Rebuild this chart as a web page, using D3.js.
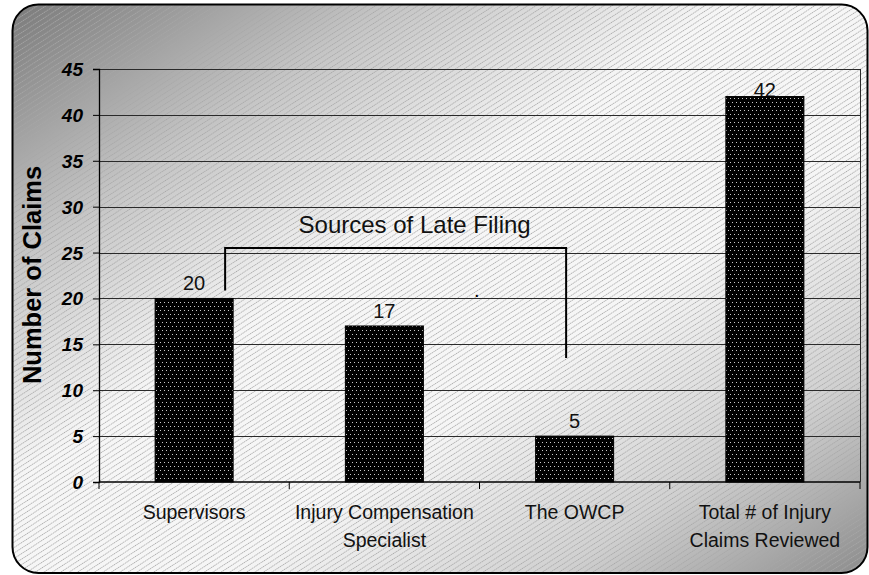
<!DOCTYPE html>
<html>
<head>
<meta charset="utf-8">
<script src="https://cdn.jsdelivr.net/npm/d3@7"></script>
<style>
  body { margin: 0; background: #fff; }
  svg { display: block; font-family: Arial, "Liberation Sans", sans-serif; }
</style>
</head>
<body>
<svg width="869" height="575"></svg>
<script>
// chart data
const categories = ["Supervisors", "Injury Compensation\nSpecialist", "The OWCP", "Total # of Injury\nClaims Reviewed"];
const claims = [20, 17, 5, 42];
const yTicks = [0, 5, 10, 15, 20, 25, 30, 35, 40, 45];
const yTitle = "Number of Claims";
const bracketTitle = "Sources of Late Filing";

const svg = d3.select("svg");
const W = 869, H = 575;
const margin = { top: 69, right: 9, bottom: 93, left: 99 };
const width = W - margin.left - margin.right,
      height = H - margin.top - margin.bottom;

const defs = svg.append("defs");

// background gradient - dark corners top-left / bottom-right, light across the middle
const grad = defs.append("linearGradient")
    .attr("id", "bg")
    .attr("x1", 0).attr("y1", 0).attr("x2", 1).attr("y2", 1);
grad.append("stop").attr("offset", "0%").attr("stop-color", "#7a7a7a");
grad.append("stop").attr("offset", "22%").attr("stop-color", "#c4c4c4");
grad.append("stop").attr("offset", "42%").attr("stop-color", "#f6f6f6");
grad.append("stop").attr("offset", "62%").attr("stop-color", "#f6f6f6");
grad.append("stop").attr("offset", "82%").attr("stop-color", "#d0d0d0");
grad.append("stop").attr("offset", "100%").attr("stop-color", "#8c8c8c");

// diagonal hatch over the background
const hatch = defs.append("pattern")
    .attr("id", "hatch")
    .attr("patternUnits", "userSpaceOnUse")
    .attr("width", 4).attr("height", 4.6)
    .attr("patternTransform", "rotate(-33)");
hatch.append("line")
    .attr("x1", 0).attr("y1", 2.3).attr("x2", 4).attr("y2", 2.3)
    .attr("stroke", "#a8a8a8")
    .attr("stroke-width", 0.9)
    .attr("stroke-dasharray", "1.3,0.7");

// dotted bar fill
const dots = defs.append("pattern")
    .attr("id", "dots")
    .attr("patternUnits", "userSpaceOnUse")
    .attr("width", 8).attr("height", 8);
dots.append("rect").attr("width", 8).attr("height", 8).attr("fill", "#000");
[[1, 1], [5, 1], [3, 5], [7, 5]].forEach(p => {
    dots.append("rect").attr("x", p[0]).attr("y", p[1])
        .attr("width", 1).attr("height", 1).attr("fill", "#c8c8c8");
});

// frame
svg.append("rect")
    .attr("x", 12.5).attr("y", 4.5)
    .attr("width", 855).attr("height", 568.5)
    .attr("rx", 26)
    .attr("fill", "url(#bg)");
svg.append("rect")
    .attr("x", 12.5).attr("y", 4.5)
    .attr("width", 855).attr("height", 568.5)
    .attr("rx", 26)
    .attr("fill", "url(#hatch)")
    .attr("stroke", "#000")
    .attr("stroke-width", 2);

const g = svg.append("g").attr("transform", `translate(${margin.left},${margin.top})`);

const x = d3.scaleBand()
    .domain(categories)
    .range([0, width])
    .paddingInner(0.59)
    .paddingOuter(0.295);

const y = d3.scaleLinear()
    .domain([0, 45])
    .range([height, 0]);

// gridlines
g.append("g")
    .selectAll("line")
    .data(yTicks.filter(d => d > 0))
    .enter().append("line")
    .attr("x1", 0).attr("x2", width)
    .attr("y1", d => Math.round(y(d)) + 0.5)
    .attr("y2", d => Math.round(y(d)) + 0.5)
    .attr("stroke", "#2a2a2a")
    .attr("stroke-width", 1);

// right edge of plot area
g.append("line")
    .attr("x1", width + 0.5).attr("x2", width + 0.5)
    .attr("y1", 0).attr("y2", height)
    .attr("stroke", "#2a2a2a");

// y axis
const yAxis = g.append("g")
    .call(d3.axisLeft(y).tickValues(yTicks).tickSize(6).tickPadding(10));
yAxis.select(".domain").attr("stroke", "#000").attr("stroke-width", 1.3);
yAxis.selectAll(".tick line").attr("stroke", "#000");
yAxis.selectAll("text")
    .attr("fill", "#000")
    .style("font-size", "19px")
    .style("font-weight", "bold")
    .style("font-style", "italic")
    .attr("dy", "0.34em");

// x axis: ticks at category boundaries
const step = x.step();
const boundaries = d3.range(categories.length + 1).map(i => i * step);
g.append("line")
    .attr("x1", 0).attr("x2", width)
    .attr("y1", height).attr("y2", height)
    .attr("stroke", "#000").attr("stroke-width", 1.5);
g.append("g")
    .selectAll("line")
    .data(boundaries)
    .enter().append("line")
    .attr("x1", d => d).attr("x2", d => d)
    .attr("y1", height).attr("y2", height + 7)
    .attr("stroke", "#000");

// category labels
const xl = g.append("g")
    .selectAll("text")
    .data(categories)
    .enter().append("text")
    .attr("text-anchor", "middle")
    .attr("x", d => x(d) + x.bandwidth() / 2)
    .attr("y", height + 37)
    .style("font-size", "19.5px")
    .attr("fill", "#111");
xl.each(function (d) {
    const t = d3.select(this);
    d.split("\n").forEach((line, i) => {
        t.append("tspan")
            .attr("x", x(d) + x.bandwidth() / 2)
            .attr("dy", i === 0 ? 0 : 28)
            .text(line);
    });
});

// value labels (drawn before bars so the tall bar overlaps its own label)
g.append("g")
    .selectAll("text")
    .data(categories)
    .enter().append("text")
    .attr("text-anchor", "middle")
    .attr("x", d => x(d) + x.bandwidth() / 2)
    .attr("y", (d, i) => Math.max(y(claims[i]) - 8, 28))
    .style("font-size", "20px")
    .attr("fill", "#111")
    .text((d, i) => claims[i]);

// bars
g.append("g")
    .selectAll("rect")
    .data(categories)
    .enter().append("rect")
    .attr("x", d => x(d))
    .attr("y", (d, i) => y(claims[i]))
    .attr("width", x.bandwidth())
    .attr("height", (d, i) => height - y(claims[i]))
    .attr("fill", "url(#dots)")
    .attr("stroke", "#000")
    .attr("stroke-width", 1);

// bracket grouping the three sources
const bx0 = x(categories[0]) + 70, bx1 = x(categories[2]) + 30.5;
const bTop = y(25) - 4.5;
g.append("path")
    .attr("d", `M${bx0},${y(20) - 8}V${bTop}H${bx1}V${y(13.5)}`)
    .attr("fill", "none")
    .attr("stroke", "#000")
    .attr("stroke-width", 2);
g.append("text")
    .attr("text-anchor", "middle")
    .attr("x", (bx0 + bx1) / 2 + 19)
    .attr("y", bTop - 15)
    .style("font-size", "24px")
    .attr("fill", "#111")
    .text(bracketTitle);

// stray period in the original
g.append("text")
    .attr("x", 375)
    .attr("y", 228)
    .style("font-size", "20px")
    .attr("fill", "#000")
    .text(".");

// y title
svg.append("text")
    .attr("transform", "translate(41,275) rotate(-90)")
    .attr("text-anchor", "middle")
    .style("font-size", "25.5px")
    .style("font-weight", "bold")
    .attr("fill", "#000")
    .text(yTitle);
</script>
</body>
</html>
